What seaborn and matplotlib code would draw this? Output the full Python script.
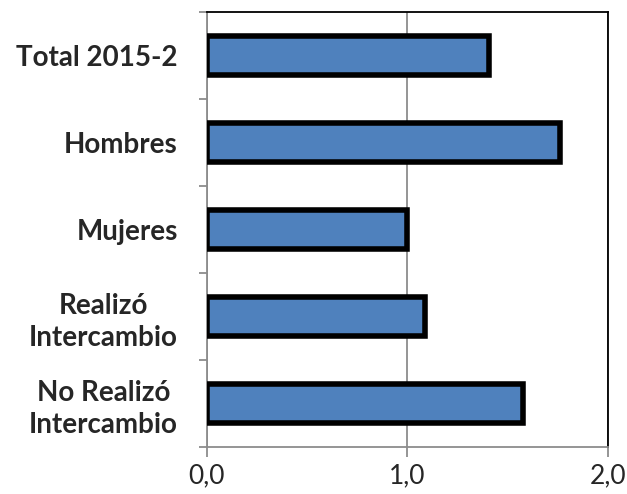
import pandas as pd
import seaborn as sns
import matplotlib.pyplot as plt
from matplotlib.ticker import FixedLocator

categories = ["Total 2015-2", "Hombres", "Mujeres", "Realizó\nIntercambio", "No Realizó\nIntercambio"]
values = [1.41, 1.765, 1.00, 1.09, 1.58]
xticks = [0.0, 1.0, 2.0]
xtick_labels = ["0,0", "1,0", "2,0"]

data = pd.DataFrame({"grupo": categories, "valor": values})

sns.set_style("white")
plt.rcParams['font.family'] = ['Lato', 'DejaVu Sans']

fig = plt.figure(figsize=(6.27, 4.94), dpi=100)
ax = fig.add_axes([0.330, 0.0951, 0.639, 0.8806])

sns.barplot(data=data, x="valor", y="grupo", orient="h", color="#4F81BD",
            saturation=1, width=0.44, edgecolor="black", linewidth=4, ax=ax, zorder=3)

ax.set_xlim(0, 2.0)
ax.set_ylim(4.5, -0.5)
ax.set_xticks(xticks)
ax.set_xticklabels(xtick_labels, fontsize=19)
ax.set_yticklabels(categories, fontsize=20, fontweight="bold",
                   multialignment="center", linespacing=1.3)
ax.set_xlabel("")
ax.set_ylabel("")

ax.xaxis.grid(True, color="#8c8c8c", linewidth=1.3, zorder=0)
ax.yaxis.grid(False)

ax.yaxis.set_minor_locator(FixedLocator([-0.5, 0.5, 1.5, 2.5, 3.5, 4.5]))
ax.tick_params(axis="y", which="major", length=0, pad=21)
ax.tick_params(axis="y", which="minor", length=6, width=1.3, color="#8c8c8c", left=True)
ax.tick_params(axis="x", which="major", length=7, width=1.3, color="#8c8c8c", bottom=True, pad=5)

for side in ["left", "bottom"]:
    ax.spines[side].set_color("#8c8c8c")
    ax.spines[side].set_linewidth(1.3)
for side in ["top", "right"]:
    ax.spines[side].set_color("black")
    ax.spines[side].set_linewidth(1.3)

plt.savefig("out.png", dpi=100)
